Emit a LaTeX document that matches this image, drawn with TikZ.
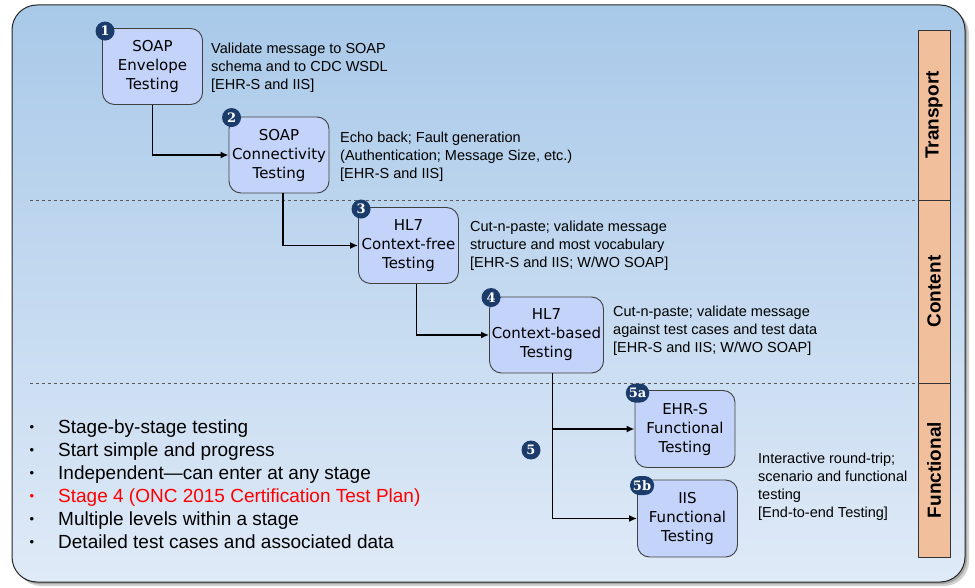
\documentclass[tikz,border=0pt]{standalone}
\usepackage{fontspec}
\setmainfont{Liberation Sans}
\newfontfamily\boxfont{DejaVu Sans}
\newfontfamily\badgefont{DejaVu Serif}
\usetikzlibrary{arrows.meta}
\definecolor{bgtop}{HTML}{A9C9E9}
\definecolor{bgbot}{HTML}{DFEAF7}
\definecolor{boxfill}{HTML}{C3D3FA}
\definecolor{navy}{HTML}{1B3B6B}
\definecolor{peach}{HTML}{F2BF9C}

\begin{document}
\begin{tikzpicture}[x=1pt,y=-1pt,
  stage/.style={draw=black!75,line width=0.9pt,fill=boxfill,rounded corners=12pt,minimum width=100pt,minimum height=76pt,align=center,inner sep=0pt,font=\boxfont\fontsize{15}{19}\selectfont},
  badge/.style={fill=navy,text=white,rounded corners=9.5pt,minimum size=19pt,inner sep=0pt,inner xsep=3pt,font=\badgefont\bfseries\fontsize{13}{13}\selectfont},
  note/.style={anchor=north west,align=left,inner sep=0pt,font=\fontsize{14.5}{17.8}\selectfont},
  flow/.style={line width=1.8pt,-{Latex[length=8pt,width=7pt]}},
  layer/.style={draw=black!80,line width=0.8pt,fill=peach,rotate=90,minimum height=32pt,inner sep=0pt,font=\bfseries\fontsize{19}{19}\selectfont},
  divider/.style={dashed,black!65,line width=0.8pt,dash pattern=on 3pt off 3pt},
  item/.style={anchor=base west,inner sep=0pt,font=\fontsize{19}{23}\selectfont}]
\useasboundingbox (0,0) rectangle (975,588);
\fill[black!18,rounded corners=25pt] (16,9) rectangle (969,586);
\fill[black!35,rounded corners=25pt] (14,7) rectangle (967,584);
\draw[black!85,line width=1pt,rounded corners=25pt,top color=bgtop,bottom color=bgbot] (12,5) rectangle (965,582);
\draw[divider] (30,200) -- (918,200);
\draw[divider] (30,383) -- (918,383);
\node[layer,minimum width=170pt] (tr) at (934,115) {Transport};
\node[layer,minimum width=183pt] (co) at (934,291.5) {Content};
\node[layer,minimum width=174pt] (fu) at (934,470) {Functional};
\node[stage] (b1) at (152.5,66.5) {SOAP\\Envelope\\Testing};
\node[stage] (b2) at (279,155) {SOAP\\Connectivity\\Testing};
\node[stage] (b3) at (408.5,245.5) {HL7\\Context-free\\Testing};
\node[stage,minimum width=114pt] (b4) at (546.5,335) {HL7\\Context-based\\Testing};
\node[stage,minimum height=77pt] (b5a) at (685,429) {EHR-S\\Functional\\Testing};
\node[stage,minimum height=77pt] (b5b) at (687.5,518.5) {IIS\\Functional\\Testing};
\node[badge] (n1) at ([shift={(3,3)}]b1.north west) {1};
\node[badge] (n2) at ([shift={(3,1)}]b2.north west) {2};
\node[badge] (n3) at ([shift={(3,2)}]b3.north west) {3};
\node[badge] (n4) at ([shift={(2,1)}]b4.north west) {4};
\node[badge] (n5a) at ([shift={(3,3)}]b5a.north west) {5a};
\node[badge] (n5b) at ([shift={(5,6)}]b5b.north west) {5b};
\node[badge] (n5) at (531,450) {5};
\draw[flow] (b1.south) |- (b2.west);
\draw[flow] ([xshift=4pt]b2.south) |- (b3.west);
\draw[flow] ([xshift=8pt]b3.south) |- (b4.west);
\draw[flow] ([xshift=6pt]b4.south) |- (b5a.west);
\draw[flow] ([xshift=6pt]b4.south) |- (b5b.west);
\node[note] (t1) at (211,43) {Validate message to SOAP\\schema and to CDC WSDL\\{[EHR-S and IIS]}};
\node[note] (t2) at (340,132) {Echo back; Fault generation\\(Authentication; Message Size, etc.)\\{[EHR-S and IIS]}};
\node[note] (t3) at (470,221) {Cut-n-paste; validate message\\structure and most vocabulary\\{[EHR-S and IIS; W/WO SOAP]}};
\node[note] (t4) at (613,306) {Cut-n-paste; validate message\\against test cases and test data\\{[EHR-S and IIS; W/WO SOAP]}};
\node[note] (t5) at (758,453) {Interactive round-trip;\\scenario and functional\\testing\\{[End-to-end Testing]}};
\foreach \t/\c [count=\i] in {Stage-by-stage testing/black,Start simple and progress/black,Independent—can enter at any stage/black,Stage 4 (ONC 2015 Certification Test Plan)/red,Multiple levels within a stage/black,Detailed test cases and associated data/black}{
  \node[item,text=\c] (p\i) at (58,410+23*\i) {\t};
  \node[anchor=base,inner sep=0pt,text=\c,font=\fontsize{13}{13}\selectfont] (d\i) at (32,408+23*\i) {\textbullet};
}
\end{tikzpicture}
\end{document}
